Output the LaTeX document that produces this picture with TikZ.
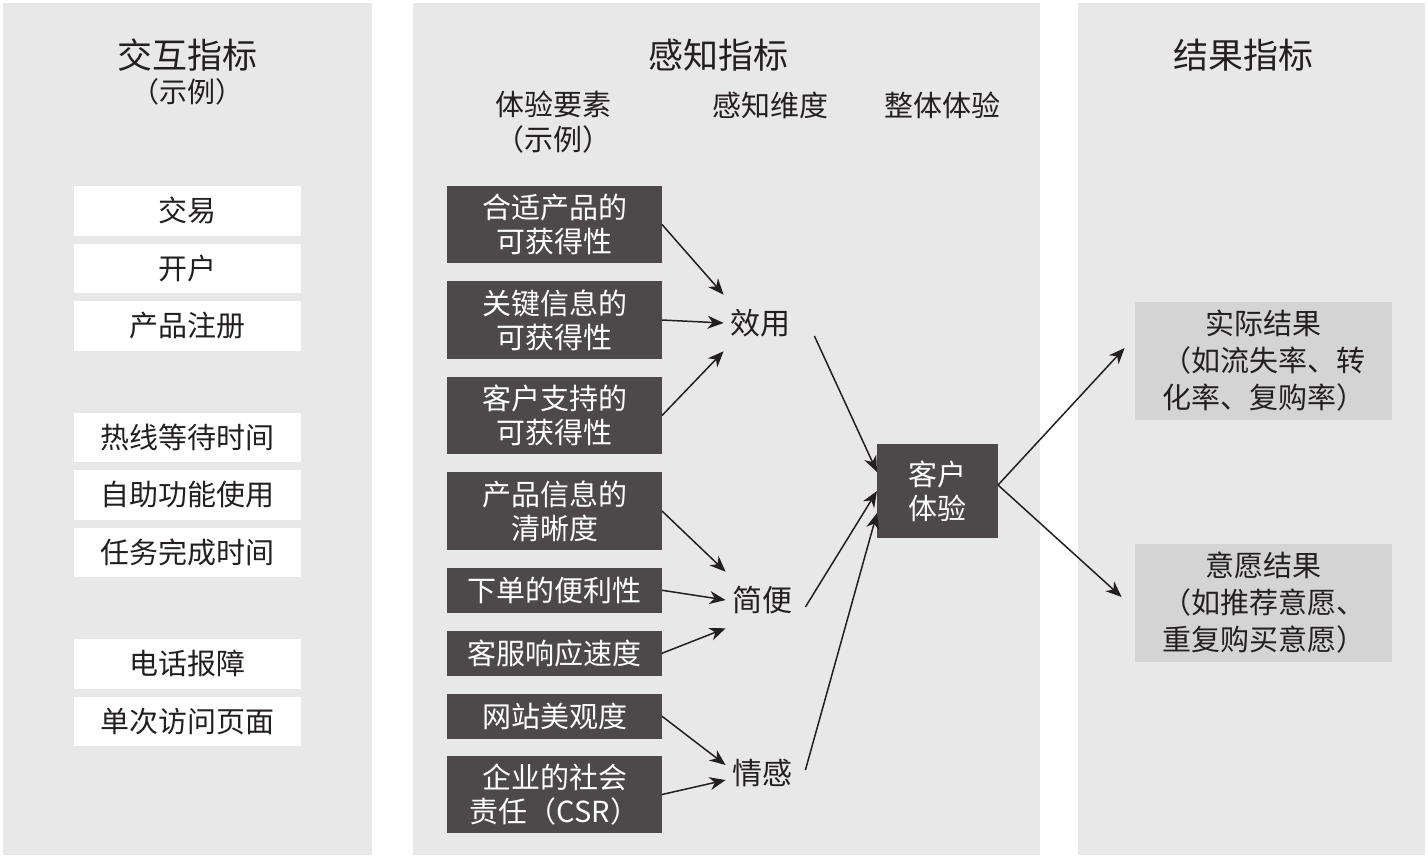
\documentclass[tikz,border=0pt]{standalone}
\usepackage{fontspec}
\setmainfont{Noto Sans CJK SC}
\usetikzlibrary{arrows.meta,positioning}
\definecolor{panelgray}{HTML}{E8E8E8}
\definecolor{elemcolor}{HTML}{4D494A}
\definecolor{resultgray}{HTML}{D4D4D4}
\definecolor{inkcolor}{HTML}{231F20}

\begin{document}
\begin{tikzpicture}[
  x=0.5pt, y=-0.5pt,
  panel/.style={fill=panelgray},
  title/.style={font=\fontsize{17.5}{20}\selectfont, text=inkcolor},
  head/.style={font=\fontsize{14.5}{17.5}\selectfont, text=inkcolor, align=center},
  metric/.style={fill=white, minimum width=113.5pt, minimum height=24.75pt, inner sep=0pt,
               outer sep=0pt, font=\fontsize{14.5}{17}\selectfont, text=inkcolor},
  elem/.style={fill=elemcolor, text=white, minimum width=107.5pt, minimum height=38.75pt,
               inner sep=0pt, outer sep=0pt, align=center, font=\fontsize{14.5}{17}\selectfont},
  elemone/.style={elem, minimum height=22.5pt},
  dim/.style={font=\fontsize{15}{17}\selectfont, text=inkcolor, inner xsep=3pt, inner ysep=7pt},
  result/.style={fill=resultgray, minimum width=128.5pt, minimum height=59pt, inner sep=0pt,
               align=center, text=inkcolor, font=\fontsize{14.5}{18.5}\selectfont},
  arr/.style={-{Stealth[length=8pt, width=6.5pt, inset=2.5pt]}, line width=0.75pt, inkcolor},
  node distance=4pt,
]
  \useasboundingbox (0,0) rectangle (1428,858);

  % Panels
  \fill[panel] (3,3) rectangle (372,855);
  \fill[panel] (413,3) rectangle (1040,855);
  \fill[panel] (1078,3) rectangle (1425,855);

  % Interaction metrics
  \node[title] (ltitle) at (187.5,55) {交互指标};
  \node[head, font=\fontsize{14}{17}\selectfont] (lnote) at (187.5,92) {（示例）};
  \node[metric] (trade) at (187.5,210.75) {交易};
  \node[metric, below=of trade] (acct) {开户};
  \node[metric, below=of acct] (reg) {产品注册};
  \node[metric, below=31pt of reg] (hotline) {热线等待时间};
  \node[metric, below=of hotline] (selfsvc) {自助功能使用};
  \node[metric, below=of selfsvc] (task) {任务完成时间};
  \node[metric, below=31pt of task] (fault) {电话报障};
  \node[metric, below=of fault] (pages) {单次访问页面};

  % Perception metrics
  \node[title] (mtitle) at (718,55) {感知指标};
  \node[head] (helem) at (553,122.5) {体验要素\\（示例）};
  \node[head] (hdim) at (770,105) {感知维度};
  \node[head] (hall) at (942,105) {整体体验};

  \node[elem] (e1) at (554.5,224.5) {合适产品的\\可获得性};
  \node[elem, below=9pt of e1] (e2) {关键信息的\\可获得性};
  \node[elem, below=9pt of e2] (e3) {客户支持的\\可获得性};
  \node[elem, below=9pt of e3] (e4) {产品信息的\\清晰度};
  \node[elemone, below=9pt of e4] (e5) {下单的便利性};
  \node[elemone, below=9pt of e5] (e6) {客服响应速度};
  \node[elemone, below=9pt of e6] (e7) {网站美观度};
  \node[elem, below=8.5pt of e7] (e8) {企业的社会\\责任（CSR）};

  \node[dim] (util) at (760,323) {效用};
  \node[dim] (ease) at (762,600) {简便};
  \node[dim] (emo) at (762,773) {情感};

  \node[elem, minimum width=60.5pt, minimum height=47pt] (cx) at (937.5,491) {客户\\体验};

  % Outcome metrics
  \node[title] (rtitle) at (1243,55) {结果指标};
  \node[result] (actual) at (1263.5,361) {实际结果\\（如流失率、转\\化率、复购率）};
  \node[result] (intent) at (1263.5,603) {意愿结果\\（如推荐意愿、\\重复购买意愿）};

  % Arrows
  \draw[arr] (e1.east) -- (util.north west);
  \draw[arr] (e2.east) -- (util.west);
  \draw[arr] (e3.east) -- (util.south west);
  \draw[arr] (e4.east) -- (ease.north west);
  \draw[arr] (e5.east) -- (ease.west);
  \draw[arr] (e6.east) -- (ease.south west);
  \draw[arr] (e7.east) -- ([yshift=4pt]emo.west);
  \draw[arr] (e8.east) -- ([yshift=-3.5pt]emo.west);

  \draw[arr] ([xshift=9pt,yshift=-6.5pt]util.east) -- ([yshift=9.5pt]cx.west);
  \draw[arr] ([xshift=3.5pt,yshift=-3.5pt]ease.east) -- (cx.west);
  \draw[arr] ([xshift=3.5pt,yshift=1.5pt]emo.east) -- ([yshift=-11pt]cx.west);

  \draw[arr] ([yshift=3pt]cx.east) -- ([xshift=-5pt,yshift=6.5pt]actual.west);
  \draw[arr] ([yshift=3pt]cx.east) -- ([xshift=-6.5pt,yshift=3pt]intent.west);

\end{tikzpicture}
\end{document}
